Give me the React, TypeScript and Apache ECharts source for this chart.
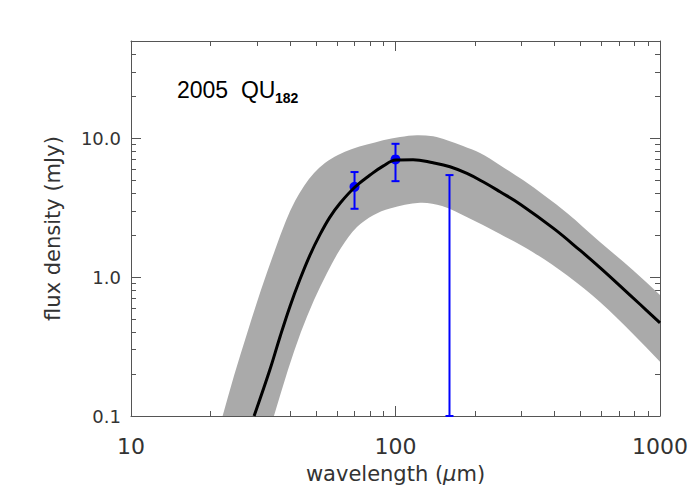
import React, { useEffect, useRef } from 'react';
import * as echarts from 'echarts';

// best-fit model curve (wavelength in micron, flux density in mJy)
const curveLambda = [29.2, 33.5, 36.6, 39.9, 43.5, 47.5, 51.8, 56.5, 61.7, 70.3, 80.1, 89.7, 100.4, 116.5, 138.7, 160.7, 186.3, 214.2, 248.4, 298, 397, 498, 593, 706, 840, 1000];
const curveFlux = [0.1, 0.215, 0.372, 0.615, 0.96, 1.44, 2.02, 2.7, 3.4, 4.45, 5.42, 6.29, 6.95, 7.0, 6.64, 6.22, 5.57, 4.85, 4.11, 3.32, 2.23, 1.56, 1.17, 0.865, 0.637, 0.468];

// envelope of the grey band of model solutions
const bandUpperLambda = [22.2, 24.5, 27.5, 31.0, 35.0, 38.5, 41.7, 45.1, 49.2, 54.1, 60.6, 68.5, 78.0, 89.7, 104, 120.6, 138.7, 156.6, 180, 208.7, 248.4, 303.4, 367.5, 445, 593, 791, 1000];
const bandUpperFlux = [0.1, 0.194, 0.396, 0.806, 1.56, 2.53, 3.52, 4.52, 5.6, 6.61, 7.55, 8.34, 8.98, 9.67, 10.2, 10.5, 10.3, 9.67, 8.76, 7.8, 6.39, 4.99, 3.83, 2.89, 1.79, 1.12, 0.742];
const bandLowerLambda = [34.7, 39.2, 43.9, 49.2, 55.1, 62.2, 71.5, 82.4, 95.3, 123.8, 150, 185.8, 248.4, 331, 445, 593, 791, 1000];
const bandLowerFlux = [0.1, 0.214, 0.402, 0.683, 1.07, 1.62, 2.29, 2.79, 3.12, 3.42, 3.24, 2.7, 2.04, 1.51, 1.03, 0.661, 0.389, 0.246];

// Herschel measurements (the 160 micron one is an upper limit)
const obsLambda = [70, 100, 160];
const obsFlux: (number | null)[] = [4.46, 7.03, null];
const obsLow = [3.1, 4.9, 0.1];
const obsHigh = [5.7, 9.1, 5.42];

const xMajorTicks = [10, 100, 1000];
const xMinorTicks = [20, 30, 40, 50, 60, 70, 80, 90, 200, 300, 400, 500, 600, 700, 800, 900];
const yMajorTicks = [0.1, 1, 10];
const yMinorTicks = [0.2, 0.3, 0.4, 0.5, 0.6, 0.7, 0.8, 0.9, 2, 3, 4, 5, 6, 7, 8, 9, 20, 30, 40];

// smooth path segments through pixel points (curve rendering only)
function smoothSegments(p: number[][]): string {
  const n = p.length;
  const tan = (i: number) => {
    const a = p[Math.max(i - 1, 0)];
    const b = p[Math.min(i + 1, n - 1)];
    const dx = b[0] - a[0];
    const dy = b[1] - a[1];
    const L = Math.hypot(dx, dy) || 1;
    return [dx / L, dy / L];
  };
  let d = '';
  for (let i = 0; i < n - 1; i++) {
    const a = p[i];
    const b = p[i + 1];
    const L = Math.hypot(b[0] - a[0], b[1] - a[1]);
    const t0 = tan(i);
    const t1 = tan(i + 1);
    const c1 = [a[0] + (t0[0] * L) / 3, a[1] + (t0[1] * L) / 3];
    const c2 = [b[0] - (t1[0] * L) / 3, b[1] - (t1[1] * L) / 3];
    d += ` C${c1[0].toFixed(2)},${c1[1].toFixed(2)} ${c2[0].toFixed(2)},${c2[1].toFixed(2)} ${b[0].toFixed(2)},${b[1].toFixed(2)}`;
  }
  return d;
}

export default function App() {
  const ref = useRef<HTMLDivElement>(null);

  useEffect(() => {
    const chart = echarts.init(ref.current!, null, { renderer: 'svg' });
    const axisColor = '#555';
    const textColor = '#333';
    const font = 'DejaVu Sans';
    const gridRect = { left: 131, right: 40, top: 41, bottom: 84 };

    const xBase = { type: 'log', logBase: 10, min: 10, max: 1000, splitLine: { show: false } };
    const yBase = { type: 'log', logBase: 10, min: 0.1, max: 50, splitLine: { show: false } };
    const line = { show: true, onZero: false, lineStyle: { color: axisColor, width: 1 } };
    const noLine = { show: false };
    const tick = (vals: number[], len: number) => ({
      show: true, inside: true, length: len, customValues: vals, lineStyle: { color: axisColor, width: 1 },
    });

    const option: any = {
      animation: false,
      backgroundColor: '#fff',
      grid: [
        { ...gridRect },
        { ...gridRect },
      ],
      xAxis: [
        {
          ...xBase, gridIndex: 0, position: 'bottom', axisLine: line, axisTick: tick(xMajorTicks, 10),
          axisLabel: {
            show: true, customValues: xMajorTicks, formatter: (v: number) => String(Math.round(v)),
            fontFamily: font, fontSize: 22, color: textColor, margin: 19,
          },
          name: 'wavelength ({mu|μ}m)', nameLocation: 'middle', nameGap: 47,
          nameTextStyle: {
            fontFamily: font, fontSize: 21, color: textColor,
            rich: { mu: { fontFamily: font, fontSize: 21, fontStyle: 'italic', color: textColor } },
          },
        },
        { ...xBase, gridIndex: 0, position: 'top', axisLine: line, axisTick: tick(xMajorTicks, 10), axisLabel: { show: false } },
        { ...xBase, gridIndex: 1, position: 'bottom', axisLine: noLine, axisTick: tick(xMinorTicks, 5), axisLabel: { show: false } },
        { ...xBase, gridIndex: 1, position: 'top', axisLine: noLine, axisTick: tick(xMinorTicks, 5), axisLabel: { show: false } },
      ],
      yAxis: [
        {
          ...yBase, gridIndex: 0, position: 'left', axisLine: line, axisTick: tick(yMajorTicks, 10),
          axisLabel: {
            show: true, customValues: yMajorTicks, formatter: (v: number) => v.toFixed(1),
            fontFamily: font, fontSize: 18, color: textColor, margin: 10,
          },
          name: 'flux density (mJy)', nameLocation: 'middle', nameGap: 68,
          nameTextStyle: { fontFamily: font, fontSize: 21, color: textColor },
        },
        { ...yBase, gridIndex: 0, position: 'right', axisLine: line, axisTick: tick(yMajorTicks, 10), axisLabel: { show: false } },
        { ...yBase, gridIndex: 1, position: 'left', axisLine: noLine, axisTick: tick(yMinorTicks, 5), axisLabel: { show: false } },
        { ...yBase, gridIndex: 1, position: 'right', axisLine: noLine, axisTick: tick(yMinorTicks, 5), axisLabel: { show: false } },
      ],
      graphic: [
        { type: 'text', left: 177, top: 78, style: { text: '2005  QU', font: '23px "Liberation Sans"', fill: '#000' } },
        { type: 'text', left: 275, top: 91, style: { text: '182', font: 'bold 14px "Liberation Sans"', fill: '#000' } },
      ],
      series: [
        {
          type: 'custom',
          xAxisIndex: 0,
          yAxisIndex: 0,
          clip: true,
          silent: true,
          data: [[100, 1]],
          encode: { x: 0, y: 1 },
          renderItem: (_params: any, api: any) => {
            const up = bandUpperLambda.map((l, i) => api.coord([l, bandUpperFlux[i]]));
            const low = bandLowerLambda.map((l, i) => api.coord([l, bandLowerFlux[i]])).reverse();
            const d =
              `M${up[0][0]},${up[0][1]}` + smoothSegments(up) +
              ` L${low[0][0]},${low[0][1]}` + smoothSegments(low) + ' Z';
            return {
              type: 'path',
              shape: { pathData: d },
              style: { fill: '#aaaaaa', stroke: 'none' },
            };
          },
        },
        {
          type: 'line',
          xAxisIndex: 0,
          yAxisIndex: 0,
          data: curveLambda.map((l, i) => [l, curveFlux[i]]),
          showSymbol: false,
          smooth: 0.4,
          clip: true,
          lineStyle: { color: '#000', width: 3 },
          silent: true,
        },
        {
          type: 'custom',
          xAxisIndex: 0,
          yAxisIndex: 0,
          silent: true,
          data: obsLambda.map((l, i) => [l, obsLow[i], obsHigh[i]]),
          encode: { x: 0, y: [1, 2] },
          renderItem: (params: any, api: any) => {
            const i = params.dataIndex;
            const lam = obsLambda[i];
            const lo = api.coord([lam, obsLow[i]]);
            const hi = api.coord([lam, obsHigh[i]]);
            const blue = '#0000ff';
            const st = { stroke: blue, lineWidth: 2 };
            const children: any[] = [
              { type: 'line', shape: { x1: lo[0], y1: lo[1], x2: hi[0], y2: hi[1] }, style: st },
              { type: 'line', shape: { x1: lo[0] - 4, y1: lo[1], x2: lo[0] + 4, y2: lo[1] }, style: st },
              { type: 'line', shape: { x1: hi[0] - 4, y1: hi[1], x2: hi[0] + 4, y2: hi[1] }, style: st },
            ];
            const f = obsFlux[i];
            if (f !== null) {
              const c = api.coord([lam, f]);
              children.push({ type: 'circle', shape: { cx: c[0], cy: c[1], r: 5 }, style: { fill: blue } });
            }
            return { type: 'group', children };
          },
        },
      ],
    };

    chart.setOption(option);
    return () => chart.dispose();
  }, []);

  return (
    <div
      ref={ref}
      style={{ position: 'fixed', left: 0, top: 0, width: 700, height: 500, background: '#fff' }}
    />
  );
}
